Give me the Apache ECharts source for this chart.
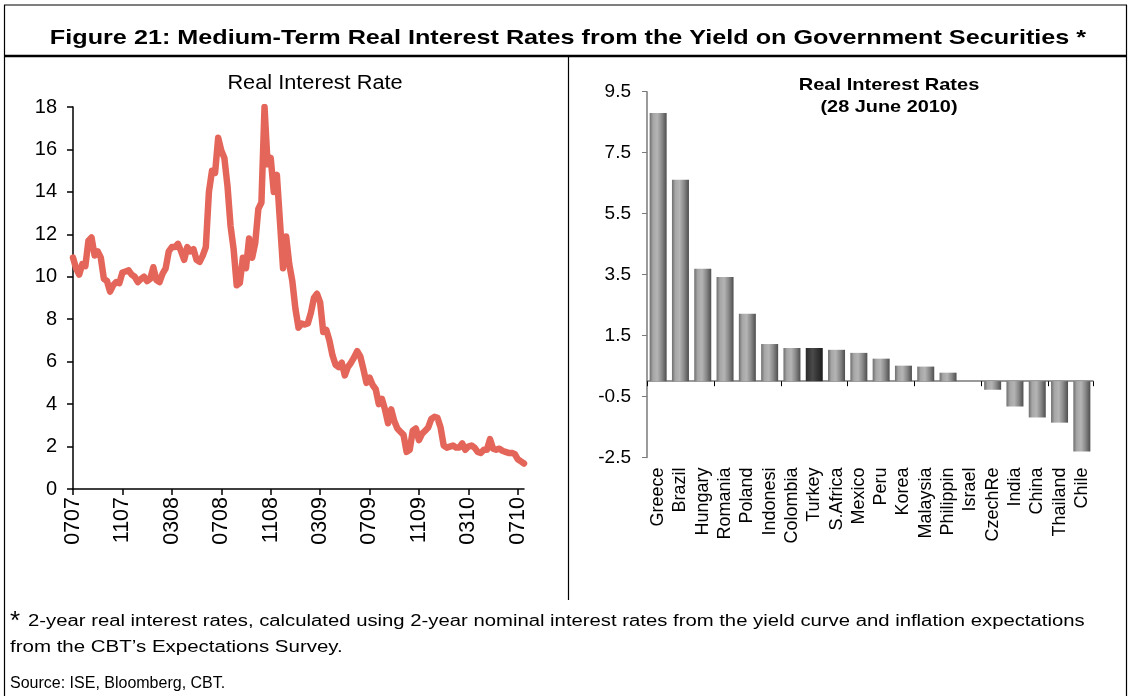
<!DOCTYPE html>
<html>
<head>
<meta charset="utf-8">
<script src="https://cdn.jsdelivr.net/npm/echarts@6/dist/echarts.min.js"></script>
<style>
html,body{margin:0;padding:0;background:#fff;}
#c{width:1130px;height:696px;}
</style>
</head>
<body>
<div id="c"></div>
<script>
// ---- Data ----
const tickLabels = ['0707','1107','0308','0708','1108','0309','0709','1109','0310','0710'];
// roughly weekly observations, July 2007 - July 2010 (16 points per 4-month tick)
const realRate = [
  10.9,10.4,10.1,10.6,10.5,11.7,11.85,11.0,11.2,10.9,9.9,9.8,9.3,9.6,9.75,9.7,
  10.2,10.25,10.3,10.1,10.0,9.75,9.9,10.0,9.8,9.9,10.45,9.85,9.75,10.15,10.4,11.2,
  11.4,11.4,11.55,11.2,10.8,11.4,11.2,11.3,10.8,10.7,11.0,11.4,14.0,15.0,14.9,16.55,
  15.95,15.6,14.3,12.4,11.3,9.6,9.7,10.9,10.4,11.8,10.9,11.6,13.2,13.5,18.0,15.3,
  15.6,14.0,14.8,12.6,10.4,11.9,10.6,9.8,8.5,7.6,7.8,7.75,7.8,8.3,9.0,9.2,
  8.8,7.4,7.5,7.0,6.3,5.85,5.75,5.95,5.35,5.75,5.95,6.2,6.5,6.25,5.65,5.0,
  5.25,4.9,4.7,4.0,4.25,3.75,3.1,3.75,3.2,2.85,2.7,2.55,1.75,1.85,2.75,2.85,
  2.3,2.6,2.75,2.9,3.3,3.4,3.35,2.9,2.05,1.95,2.0,2.05,1.95,1.95,2.15,1.85,
  2.0,2.05,1.95,1.75,1.7,1.85,1.85,2.35,1.9,1.85,1.9,1.8,1.75,1.7,1.7,1.65,
  1.4,1.3,1.2
];
const lineCats = realRate.map((v, i) => (i % 16 === 0 ? tickLabels[i / 16] : 'w' + i));

const countries = ['Greece','Brazil','Hungary','Romania','Poland','Indonesi','Colombia','Turkey','S.Africa','Mexico',
                   'Peru','Korea','Malaysia','Philippin','Israel','CzechRe','India','China','Thailand','Chile'];
const rates = [8.8,6.61,3.69,3.42,2.21,1.22,1.09,1.09,1.03,0.93,0.74,0.51,0.48,0.28,0,-0.28,-0.83,-1.19,-1.36,-2.31];
const highlight = 'Turkey';

// ---- Styles ----
const FONT = '"Liberation Sans", Arial, sans-serif';
const greyBar = new echarts.graphic.LinearGradient(0, 0, 1, 0, [
  {offset: 0, color: '#6e6e6e'},
  {offset: 0.2, color: '#a6a6a6'},
  {offset: 0.45, color: '#b4b4b4'},
  {offset: 0.7, color: '#8c8c8c'},
  {offset: 1, color: '#4e4e4e'}
]);
const darkBar = new echarts.graphic.LinearGradient(0, 0, 1, 0, [
  {offset: 0, color: '#2a2a2a'},
  {offset: 0.4, color: '#4a4a4a'},
  {offset: 0.7, color: '#333333'},
  {offset: 1, color: '#1e1e1e'}
]);

const chart = echarts.init(document.getElementById('c'), null, {renderer: 'canvas'});
const every16 = (i) => i % 16 === 0;

function txt(text, x, y, font, align, sx) {
  return {type: 'text', x: x, y: y, scaleX: sx || 1, scaleY: 1,
    style: {text: text, x: 0, y: 0, textAlign: align, textVerticalAlign: 'middle', fill: '#000', font: font}};
}

const option = {
  backgroundColor: '#ffffff',
  animation: false,
  grid: [
    {left: 73, top: 107, width: 451, height: 382},
    {left: 647, top: 91.7, width: 446, height: 365.7}
  ],
  xAxis: [
    {
      gridIndex: 0, type: 'category', data: lineCats, boundaryGap: false,
      axisLine: {lineStyle: {color: '#000', width: 1.5}},
      axisTick: {interval: every16, length: 6, lineStyle: {color: '#000', width: 1.5}},
      axisLabel: {interval: every16, rotate: 90, margin: 8, color: '#000', fontSize: 21.5, fontFamily: FONT}
    },
    {
      gridIndex: 1, type: 'category', data: countries, position: 'bottom',
      axisLine: {show: false, onZero: false}, axisTick: {show: false},
      axisLabel: {interval: 0, rotate: 90, margin: 10, color: '#000', fontSize: 18, fontFamily: FONT}
    },
    {
      gridIndex: 1, type: 'category', data: countries, position: 'bottom',
      axisLine: {show: true, onZero: true, lineStyle: {color: '#7a7a7a', width: 1.5}},
      axisTick: {show: true, length: 5, lineStyle: {color: '#000', width: 1}},
      axisLabel: {show: false}
    }
  ],
  yAxis: [
    {
      gridIndex: 0, type: 'value', min: 0, max: 18, interval: 2,
      axisLine: {show: true, lineStyle: {color: '#000', width: 1.5}},
      axisTick: {show: true, length: 6, lineStyle: {color: '#000', width: 1.5}},
      splitLine: {show: false},
      axisLabel: {margin: 16, color: '#000', fontSize: 20, fontFamily: FONT}
    },
    {
      gridIndex: 1, type: 'value', min: -2.5, max: 9.5, interval: 2,
      axisLine: {show: true, lineStyle: {color: '#7a7a7a', width: 1.5}},
      axisTick: {show: true, length: 5, lineStyle: {color: '#7a7a7a', width: 1}},
      splitLine: {show: false},
      axisLabel: {margin: 16, color: '#000', fontSize: 19, fontFamily: FONT,
                  formatter: (v) => v.toFixed(1)}
    }
  ],
  series: [
    {
      type: 'line', xAxisIndex: 0, yAxisIndex: 0, data: realRate,
      symbol: 'none', smooth: false,
      lineStyle: {color: '#e4665a', width: 6.5, cap: 'round', join: 'round'}
    },
    {
      type: 'bar', xAxisIndex: 1, yAxisIndex: 1, barWidth: 17,
      data: rates.map((v, i) => ({
        value: v,
        itemStyle: {color: countries[i] === highlight ? darkBar : greyBar}
      }))
    }
  ],
  graphic: [
    // frame
    {type: 'line', shape: {x1: 4, y1: 5, x2: 1127, y2: 5}, style: {stroke: '#000', lineWidth: 1.2}},
    {type: 'line', shape: {x1: 4.5, y1: 5, x2: 4.5, y2: 696}, style: {stroke: '#000', lineWidth: 1.2}},
    {type: 'line', shape: {x1: 1126.5, y1: 5, x2: 1126.5, y2: 696}, style: {stroke: '#000', lineWidth: 1.2}},
    {type: 'line', shape: {x1: 4, y1: 56, x2: 1127, y2: 56}, style: {stroke: '#000', lineWidth: 2.5}},
    {type: 'line', shape: {x1: 568.5, y1: 57, x2: 568.5, y2: 600}, style: {stroke: '#000', lineWidth: 1.2}},
    // titles
    txt('Figure 21: Medium-Term Real Interest Rates from the Yield on Government Securities *', 568, 38, 'bold 21px ' + FONT, 'center', 1.2),
    txt('Real Interest Rate', 315, 83, '20px ' + FONT, 'center', 1.087),
    txt('Real Interest Rates', 889, 85, 'bold 17px ' + FONT, 'center', 1.18),
    txt('(28 June 2010)', 889, 107, 'bold 17px ' + FONT, 'center', 1.17),
    // footnotes
    txt('*', 10, 622, '26px ' + FONT, 'left', 1),
    txt('2-year real interest rates, calculated using 2-year nominal interest rates from the yield curve and inflation expectations', 28, 622, '16px ' + FONT, 'left', 1.268),
    txt('from the CBT\u2019s Expectations Survey.', 10, 648, '16px ' + FONT, 'left', 1.28),
    txt('Source: ISE, Bloomberg, CBT.', 10, 684, '16px ' + FONT, 'left', 1)
  ]
};
chart.setOption(option);
</script>
</body>
</html>
